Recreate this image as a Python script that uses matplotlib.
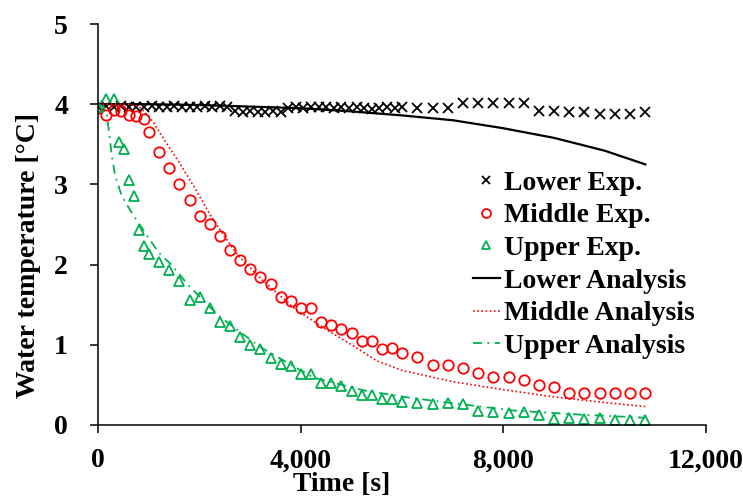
import numpy as np
import matplotlib.pyplot as plt
from matplotlib.ticker import StrMethodFormatter

plt.rcParams['font.family'] = 'Liberation Serif'
plt.rcParams['font.weight'] = 'bold'
plt.rcParams['axes.labelweight'] = 'bold'
plt.rcParams['font.size'] = 20

# measured data (Exp.)
t_lower = [0, 150, 300, 450, 600, 750, 900, 1050, 1200, 1350, 1500, 1650, 1800, 1950, 2100, 2250, 2400, 2550,
           2700, 2850, 3000, 3150, 3300, 3450, 3600,
           3750, 3900, 4050, 4200, 4350, 4500, 4650, 4800, 4950, 5100, 5250, 5400, 5550, 5700, 5850, 6000,
           6300, 6600, 6900, 7200, 7500, 7800, 8100, 8400, 8700, 9000, 9300, 9600, 9900, 10200, 10500, 10800]
T_lower = [3.97, 3.98, 3.97, 3.98, 3.96, 3.97, 3.97, 3.98, 3.96, 3.97, 3.98, 3.97, 3.96, 3.97, 3.98, 3.97, 3.98, 3.97,
           3.91, 3.90, 3.91, 3.90, 3.90, 3.91, 3.90,
           3.95, 3.96, 3.95, 3.96, 3.97, 3.96, 3.95, 3.96, 3.95, 3.96, 3.95, 3.94, 3.95, 3.96, 3.95, 3.96,
           3.95, 3.95, 3.95, 4.02, 4.02, 4.02, 4.02, 4.02, 3.92, 3.92, 3.90, 3.90, 3.88, 3.88, 3.88, 3.90]

t_middle = [0, 150, 300, 450, 600, 750, 900, 1000, 1200, 1400, 1600, 1800, 2000, 2200, 2400, 2600, 2800, 3000,
            3200, 3400, 3600, 3800, 4000, 4200, 4400, 4600, 4800, 5000, 5200, 5400, 5600, 5800, 6000,
            6300, 6600, 6900, 7200, 7500, 7800, 8100, 8400, 8700, 9000, 9300, 9600, 9900, 10200, 10500, 10800]
T_middle = [3.95, 3.87, 3.93, 3.92, 3.87, 3.85, 3.82, 3.65, 3.41, 3.20, 3.00, 2.80, 2.60, 2.50, 2.36, 2.18, 2.06, 1.95,
            1.85, 1.76, 1.60, 1.55, 1.46, 1.46, 1.29, 1.25, 1.20, 1.15, 1.05, 1.05, 0.95, 0.96, 0.90,
            0.85, 0.75, 0.75, 0.71, 0.65, 0.60, 0.60, 0.56, 0.50, 0.47, 0.40, 0.40, 0.40, 0.40, 0.40, 0.40]

t_upper = [0, 150, 300, 400, 500, 600, 700, 800, 900, 1000, 1200, 1400, 1600, 1800, 2000, 2200, 2400, 2600,
           2800, 3000, 3200, 3400, 3600, 3800, 4000, 4200, 4400, 4600, 4800, 5000, 5200, 5400, 5600, 5800, 6000,
           6300, 6600, 6900, 7200, 7500, 7800, 8100, 8400, 8700, 9000, 9300, 9600, 9900, 10200, 10500, 10800]
T_upper = [3.97, 4.07, 4.07, 3.53, 3.44, 3.06, 2.86, 2.43, 2.23, 2.13, 2.03, 1.93, 1.80, 1.56, 1.59, 1.46, 1.29, 1.23,
           1.10, 1.00, 0.95, 0.83, 0.76, 0.73, 0.63, 0.63, 0.52, 0.52, 0.49, 0.42, 0.37, 0.37, 0.33, 0.33, 0.29,
           0.28, 0.26, 0.27, 0.26, 0.18, 0.16, 0.15, 0.16, 0.13, 0.07, 0.09, 0.07, 0.09, 0.06, 0.06, 0.06]

# analysis curves
ta_lower = [0, 1000, 2000, 3000, 4000, 5000, 6000, 7000, 8000, 9000, 10000, 10800]
Ta_lower = [4.0, 4.0, 3.99, 3.97, 3.95, 3.91, 3.86, 3.80, 3.70, 3.58, 3.42, 3.25]

ta_middle = [0, 600, 800, 920, 1100, 1250, 1400, 1600, 1900, 2200, 2450, 2750, 3250, 3900, 4500, 5000,
             5500, 6000, 7000, 8000, 9000, 10000, 10800]
Ta_middle = [4.0, 4.0, 3.97, 3.90, 3.76, 3.61, 3.46, 3.27, 2.96, 2.63, 2.39, 2.12, 1.80, 1.44, 1.19, 1.00,
             0.80, 0.68, 0.54, 0.44, 0.35, 0.28, 0.23]

ta_upper = [0, 100, 170, 200, 265, 330, 460, 655, 920, 1190, 1455, 1780, 2000, 2375, 3200, 4250, 5250, 6150,
            6900, 8200, 9500, 10800]
Ta_upper = [4.0, 3.97, 3.88, 3.70, 3.36, 3.11, 2.86, 2.65, 2.40, 2.15, 1.99, 1.74, 1.60, 1.36, 0.97, 0.59, 0.43, 0.34,
            0.28, 0.18, 0.13, 0.09]

red = '#FF0000'
green = '#00B050'

fig = plt.figure(figsize=(7.43, 4.98), dpi=100)
ax = fig.add_axes([0.1324, 0.1466, 0.8178, 0.8052])

ax.plot(t_lower, T_lower, ls='none', marker='x', ms=7, mew=1.3, color='black', label='Lower Exp.')
ax.plot(t_middle, T_middle, ls='none', marker='o', ms=7.5, mew=1.3, mfc='none', color=red, label='Middle Exp.')
ax.plot(t_upper, T_upper, ls='none', marker='^', ms=7.5, mew=1.3, mfc='none', color=green, label='Upper Exp.')
ax.plot(ta_lower, Ta_lower, color='black', lw=1.6, label='Lower Analysis')
ax.plot(ta_middle, Ta_middle, color=red, lw=1.2, ls=(0, (1, 1.5)), label='Middle Analysis')
ax.plot(ta_upper, Ta_upper, color=green, lw=1.3, ls=(0, (5, 3, 1, 3)), label='Upper Analysis')

ax.set_xlim(0, 12000)
ax.set_ylim(0, 5)
ax.set_xticks([0, 4000, 8000, 12000])
ax.set_yticks([0, 1, 2, 3, 4, 5])
ax.xaxis.set_major_formatter(StrMethodFormatter('{x:,.0f}'))
ax.spines['top'].set_visible(False)
ax.spines['right'].set_visible(False)
for s in ['left', 'bottom']:
  ax.spines[s].set_linewidth(1.1)
ax.tick_params(direction='out', length=5.8, width=1.1)
ax.tick_params(axis='y', pad=16)
ax.tick_params(axis='x', pad=11)

ax.set_xlabel('Time [s]')
ax.set_ylabel('Water temperature [°C]')
ax.xaxis.set_label_coords(0.401, -0.117)
ax.yaxis.set_label_coords(-0.094, 0.4225)

ax.legend(loc='upper left', bbox_to_anchor=(0.636, 0.658), bbox_transform=fig.transFigure,
          frameon=False, borderpad=0, borderaxespad=0, labelspacing=0.26,
          handlelength=1.0, handletextpad=0.15, markerscale=0.85, prop={'weight': 'bold', 'size': 20})

fig.savefig('out.png', dpi=100)
